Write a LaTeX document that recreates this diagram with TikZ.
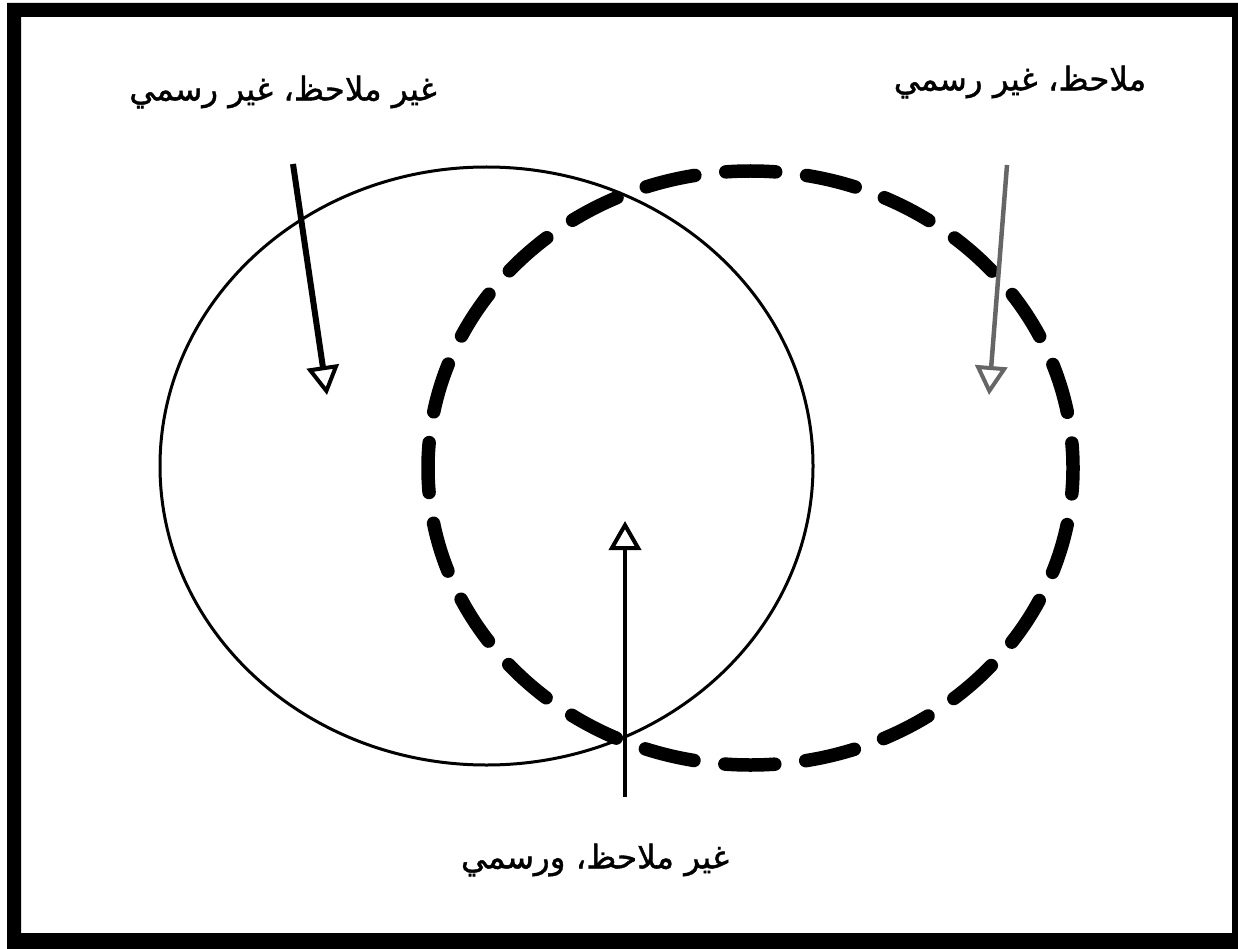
\documentclass[tikz,border=0pt]{standalone}
\usepackage{fontspec}
\newfontfamily\arabicfont[Script=Arabic,FakeBold=1.2]{DejaVu Sans}
\TeXXeTstate=1
\usetikzlibrary{arrows.meta,shapes.geometric}
\tikzset{
  lbl/.style={font=\arabicfont\fontsize{32.5}{38}\selectfont, inner sep=0pt},
  solidring/.style={ellipse, draw=black, line width=3pt, inner sep=0pt},
  dashring/.style={ellipse, draw=black, line width=13.5pt, line cap=round,
     dash pattern=on 50pt off 31.1pt, dash phase=25pt, inner sep=0pt},
  headtip/.style={-{Triangle[length=29pt,width=32pt,line width=4pt,fill=white]}},
}
\begin{document}
\begin{tikzpicture}[x=1pt,y=-1pt]
\useasboundingbox (0,0) rectangle (1238,949);
\fill[white] (0,0) rectangle (1238,949);
% frame
\fill[black,even odd rule] (7,3) rectangle (1240,951) (21,17) rectangle (1232,933);
% rings
\node[solidring, minimum width=653pt, minimum height=598pt] (solid) at (486.5,466) {};
\node[dashring, minimum width=645pt, minimum height=594pt] (dashed) at (750.5,468) {};
% labels
\node[lbl] (l1) at (283,92) {\beginR غير ملاحظ، غير رسمي\endR};
\node[lbl] (l2) at (1020,82) {\beginR ملاحظ، غير رسمي\endR};
\node[lbl] (l3) at (595,860) {\beginR غير ملاحظ، ورسمي\endR};
% arrows
\coordinate (a1s) at (293,164);
\coordinate (a1e) at (327,395);
\coordinate (a2s) at (1007,165);
\coordinate (a2e) at (989,395);
\coordinate (a3s) at (625,797);
\coordinate (a3e) at (625,521);
\draw[headtip, line width=6pt] (a1s) -- (a1e);
\draw[headtip, line width=4.5pt, black!60] (a2s) -- (a2e);
\draw[headtip, line width=3.5pt] (a3s) -- (a3e);
\end{tikzpicture}
\end{document}
